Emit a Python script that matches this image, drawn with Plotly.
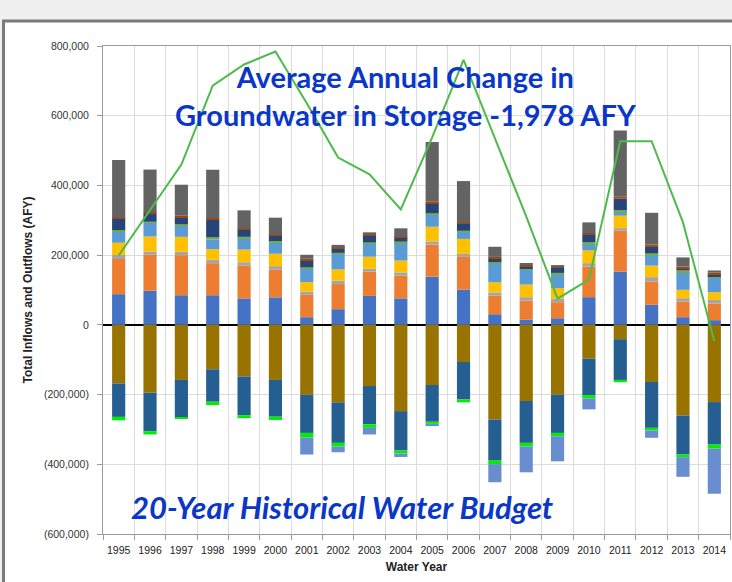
import plotly.graph_objects as go

years = list(range(1995, 2015))
year_labels = [str(y) for y in years]

# Inflows (positive stack, bottom to top), AFY
inflow_1 = [88000, 98000, 85000, 85000, 76000, 79000, 22000, 45000, 83000, 76000, 138000, 101000, 30500, 14500, 19000, 79500, 153000, 57500, 22000, 13500]
inflow_2 = [101000, 103000, 115000, 92000, 94000, 80000, 64000, 72000, 70000, 65000, 92000, 94000, 53000, 55000, 46000, 88000, 117000, 67000, 45000, 48000]
inflow_3 = [11500, 9500, 9500, 10000, 9500, 9500, 9500, 10000, 8000, 9500, 9500, 8500, 9500, 10000, 10000, 9500, 7500, 12500, 9500, 10000]
inflow_4 = [35000, 43000, 43000, 30000, 36500, 35500, 27000, 32000, 34500, 34000, 42000, 43000, 29000, 36000, 30500, 36500, 35500, 33000, 24000, 22000]
inflow_5 = [32500, 40000, 32500, 28000, 32500, 33500, 40000, 45000, 37500, 50000, 34500, 20000, 54000, 42000, 39500, 18000, 10500, 29500, 50500, 43000]
inflow_6 = [4000, 3000, 4000, 6000, 4000, 3000, 3000, 3000, 4000, 4000, 4500, 4000, 4000, 4000, 4000, 5000, 5000, 5000, 5000, 3000]
inflow_7 = [33000, 22000, 19000, 50000, 20000, 15000, 20000, 11500, 18000, 11500, 29000, 19000, 10500, 4500, 14500, 22000, 33500, 19000, 6500, 5000]
inflow_8 = [3000, 4000, 5000, 5000, 4000, 4000, 4000, 3000, 4000, 3000, 5000, 3000, 4500, 5000, 2000, 4500, 6500, 7000, 5000, 5000]
inflow_9 = [165000, 123000, 89000, 139000, 52000, 48000, 11500, 8000, 6500, 24000, 170000, 120000, 29000, 6500, 6000, 31000, 189000, 91000, 26000, 6500]

# Outflows (negative stack, top to bottom), AFY
outflow_1 = [-168000, -195000, -158000, -127500, -148000, -158000, -200500, -222500, -175500, -247500, -172500, -106500, -271500, -218500, -200500, -97000, -41000, -164000, -260000, -221500]
outflow_2 = [-96000, -110000, -106500, -93000, -111000, -105500, -109500, -116000, -110000, -113000, -105500, -107500, -118000, -120000, -109500, -104500, -117000, -131500, -112000, -122000]
outflow_3 = [-10000, -9500, -4000, -9500, -8500, -9500, -13000, -10500, -10000, -8500, -6000, -8500, -10000, -10500, -9500, -9500, -6500, -7500, -7500, -11500]
outflow_4 = [0, 0, 0, 0, 0, 0, -49000, -16500, -19000, -10000, -6500, 0, -52000, -74000, -72000, -31500, 0, -21000, -56500, -129500]

# Change in groundwater storage line, AFY
storage_line = [199000, 328000, 460000, 686000, 747000, 784000, 636000, 480000, 432000, 331000, 538000, 760000, 536000, 311000, 75000, 130000, 527000, 527000, 294000, -47000]

y_tick_vals = [800000, 600000, 400000, 200000, 0, -200000, -400000, -600000]
y_tick_text = ["800,000", "600,000", "400,000", "200,000", "0", "(200,000)", "(400,000)", "(600,000)"]

inflows = [
    ("Inflow 1", inflow_1, "#4472C4"),
    ("Inflow 2", inflow_2, "#ED7D31"),
    ("Inflow 3", inflow_3, "#A5A5A5"),
    ("Inflow 4", inflow_4, "#FFC000"),
    ("Inflow 5", inflow_5, "#5B9BD5"),
    ("Inflow 6", inflow_6, "#70AD47"),
    ("Inflow 7", inflow_7, "#264478"),
    ("Inflow 8", inflow_8, "#9E480E"),
    ("Inflow 9", inflow_9, "#636363"),
]
outflows = [
    ("Outflow 1", outflow_1, "#997300"),
    ("Outflow 2", outflow_2, "#255E91"),
    ("Outflow 3", outflow_3, "#00EE00"),
    ("Outflow 4", outflow_4, "#698ED0"),
]

fig = go.Figure()
for name, vals, col in inflows + outflows:
    fig.add_trace(go.Bar(x=years, y=vals, name=name, marker=dict(color=col, line=dict(width=0))))

fig.add_trace(go.Scatter(x=years, y=storage_line, mode="lines", name="Change in Storage",
                         line=dict(color="#4CBB4C", width=2)))

L, R, T, B = 103, 2, 46, 48
W, H = 732, 582
pw, ph = W - L - R, H - T - B

def px(xp):
    return (xp - L) / pw

def py(yp):
    return (H - B - yp) / ph

fig.add_shape(type="rect", xref="paper", yref="paper",
              x0=px(3.5), x1=px(745), y0=py(21), y1=py(600),
              line=dict(color="#7a7a7a", width=3), fillcolor="white", layer="below")

fig.update_layout(
    width=W, height=H,
    margin=dict(l=L, r=R, t=T, b=B),
    paper_bgcolor="#f0f0f0",
    plot_bgcolor="rgba(0,0,0,0)",
    barmode="relative",
    bargap=0.58,
    showlegend=False,
    font=dict(family="Arial, Liberation Sans", size=11, color="#333333"),
    xaxis=dict(
        range=[1994.5, 2014.5],
        tickvals=years, ticktext=year_labels,
        ticks="", showgrid=False,
        tickfont=dict(size=10.5, color="#222222"),
        ticklabelstandoff=6,
        showline=True, linecolor="#9a9a9a", linewidth=1, mirror=True,
        minor=dict(tickvals=[y + 0.5 for y in range(1994, 2015)], ticks="outside",
                   ticklen=5, tickcolor="#9a9a9a", showgrid=True, gridcolor="#dcdcdc", gridwidth=1),
        title=dict(text="<b>Water Year</b>", font=dict(size=12, color="#222222"), standoff=8),
        zeroline=False,
    ),
    yaxis=dict(
        range=[-600000, 800000],
        tickvals=y_tick_vals, ticktext=y_tick_text,
        ticks="outside", ticklen=5, tickcolor="#9a9a9a",
        tickfont=dict(size=10.5, color="#333333"),
        ticklabelstandoff=6,
        showgrid=True, gridcolor="#dcdcdc", gridwidth=1,
        showline=True, linecolor="#9a9a9a", linewidth=1, mirror=True,
        zeroline=True, zerolinecolor="#000000", zerolinewidth=2,
        title=dict(text="<b>Total Inflows and Outflows (AFY)</b>", font=dict(size=12, color="#222222"), standoff=8),
    ),
    annotations=[
        dict(text="<b>Average Annual Change in<br>Groundwater in Storage -1,978 AFY</b>",
             xref="paper", yref="paper", x=px(405), y=py(96), xanchor="center", yanchor="middle",
             showarrow=False, font=dict(family="Lato", size=29, color="#0A37C8")),
        dict(text="<b><i>20-Year Historical Water Budget</i></b>",
             xref="paper", yref="paper", x=px(342), y=py(507), xanchor="center", yanchor="middle",
             showarrow=False, font=dict(family="Lato", size=31, color="#0A37C8")),
    ],
)

fig.write_html("out.html", config={"displayModeBar": False},
               post_script="document.body.style.margin='0';document.body.style.overflow='hidden';")
